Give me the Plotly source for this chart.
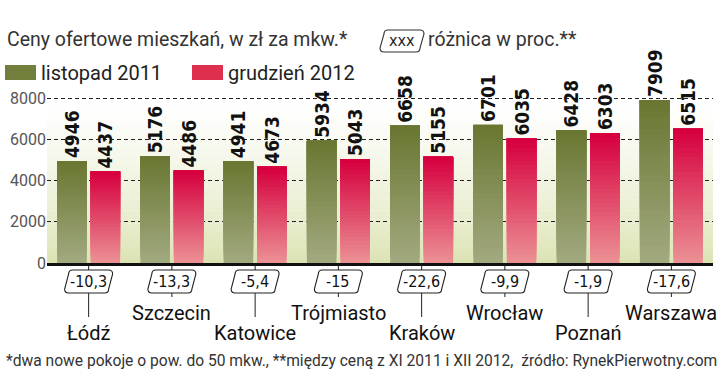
import plotly.graph_objects as go

# ---- data ----
cities = ["Łódź", "Szczecin", "Katowice", "Trójmiasto", "Kraków", "Wrocław", "Poznań", "Warszawa"]
nov2011 = [4946, 5176, 4941, 5934, 6658, 6701, 6428, 7909]
dec2012 = [4437, 4486, 4673, 5043, 5155, 6035, 6303, 6515]
diff_pct = ["-10,3", "-13,3", "-5,4", "-15", "-22,6", "-9,9", "-1,9", "-17,6"]
series_names = ["listopad 2011", "grudzień 2012"]
y_ticks = [0, 2000, 4000, 6000, 8000]

NARROW = "DejaVu Sans Condensed, Liberation Sans Narrow, DejaVu Sans"

# ---- layout geometry (pixels) ----
W, H = 720, 389
ML, MR, MT, MB = 47, 7, 94, 126
PW, PH = W - ML - MR, H - MT - MB
Y0PX = H - MB


def px(x):
    return (x - ML) / PW


def py(y):
    return (Y0PX - y) / PH


def cat_paper(i):
    # category index -> paper x (axis range is [-0.5, n-0.5])
    return (i + 0.5) / len(cities)


def hex2rgb(h):
    h = h.lstrip("#")
    return [int(h[i:i + 2], 16) for i in (0, 2, 4)]


def lerp(c1, c2, t):
    a, b = hex2rgb(c1), hex2rgb(c2)
    return "rgb(%d,%d,%d)" % tuple(round(a[i] + (b[i] - a[i]) * t) for i in range(3))


fig = go.Figure()
x = list(range(len(cities)))

N = 28
specs = [
    (nov2011, "#a1a97f", "#6a7732", -0.378),
    (dec2012, "#eb8f93", "#d6003f", 0.024),
]
BW = 0.354
for vals, cbot, ctop, off in specs:
    for k in range(N):
        f = k / N
        base = [v * f for v in vals]
        hts = [v - b for v, b in zip(vals, base)]
        last = k == N - 1
        fig.add_trace(go.Bar(
            x=x, y=hts, base=base,
            offset=off, width=BW,
            marker=dict(color=lerp(cbot, ctop, k / (N - 1)), line=dict(width=0)),
            text=[str(v) for v in vals] if last else None,
            textposition="outside" if last else "none",
            textangle=-90,
            constraintext="none",
            cliponaxis=False,
            textfont=dict(family=NARROW, size=19, color="#111", weight="bold"),
            hoverinfo="skip",
            showlegend=False,
        ))

shapes = []
# background gradient of plot area
NS = 40
top_px, bot_px = 105, Y0PX
for i in range(NS):
    y_a = bot_px - (bot_px - top_px) * i / NS
    y_b = bot_px - (bot_px - top_px) * (i + 1) / NS
    t = i / (NS - 1)
    shapes.append(dict(type="rect", xref="paper", yref="paper",
                       x0=0, x1=1, y0=py(y_a), y1=py(y_b) + 0.002,
                       fillcolor=lerp("#dce3b3", "#ffffff", t ** 0.8),
                       line=dict(width=0), layer="below"))


def box_path(w, yt, yb, slant=2.0, r=4):
    # slanted rounded box, pixel coordinates (y up positive)
    xl_t, xr_t = -w / 2 + slant, w / 2 + slant
    xl_b, xr_b = -w / 2 - slant, w / 2 - slant
    return (f"M {xl_t + r},{yt} L {xr_t - r},{yt} Q {xr_t},{yt} {xr_t},{yt - r} "
            f"L {xr_b},{yb + r} Q {xr_b},{yb} {xr_b - r},{yb} "
            f"L {xl_b + r},{yb} Q {xl_b},{yb} {xl_b},{yb + r} "
            f"L {xl_t},{yt - r} Q {xl_t},{yt} {xl_t + r},{yt} Z")


annotations = []
for i, (c, d) in enumerate(zip(cities, diff_pct)):
    lower = i % 2 == 0
    cx = cat_paper(i)
    shapes.append(dict(type="line", xref="paper", yref="paper", x0=cx, x1=cx,
                       y0=py(Y0PX + 2), y1=py(Y0PX + (54 if lower else 34)),
                       line=dict(color="#222", width=1), layer="above"))
    shapes.append(dict(type="path", xref="paper", yref="paper", xsizemode="pixel", xanchor=cx,
                       ysizemode="pixel", yanchor=0, path=box_path(44, -7, -30),
                       fillcolor="white", line=dict(color="#222", width=1.1), layer="above"))
    annotations.append(dict(x=i, y=0, xref="x", yref="y", yshift=-18.5, text=d,
                            showarrow=False, font=dict(family=NARROW, size=16, color="#111")))
    annotations.append(dict(x=i, y=0, xref="x", yref="y", yshift=-70 if lower else -50, text=c,
                            showarrow=False, font=dict(family="Roboto", size=20, color="#111")))

# title / header
annotations.append(dict(x=px(5), y=py(40), xref="paper", yref="paper", xanchor="left", yanchor="middle",
                        text="Ceny ofertowe mieszkań, w zł za mkw.*", showarrow=False,
                        font=dict(family="Roboto", size=19.5, color="#333")))
shapes.append(dict(type="path", xref="paper", yref="paper", xsizemode="pixel", xanchor=px(402),
                   ysizemode="pixel", yanchor=py(41), path=box_path(40, 11, -11, slant=2),
                   fillcolor="white", line=dict(color="#333", width=1.1)))
annotations.append(dict(x=px(402), y=py(41), xref="paper", yref="paper", xanchor="center", yanchor="middle",
                        text="xxx", showarrow=False,
                        font=dict(family=NARROW, size=16, color="#222")))
annotations.append(dict(x=px(426), y=py(40), xref="paper", yref="paper", xanchor="left", yanchor="middle",
                        text="różnica w proc.**", showarrow=False,
                        font=dict(family="Roboto", size=19.5, color="#333")))

# legend
for (sx, col, name, tx) in [(5, "#717e3c", series_names[0], 39), (192, "#de2f4e", series_names[1], 226)]:
    shapes.append(dict(type="rect", xref="paper", yref="paper",
                       x0=px(sx), x1=px(sx + 31), y0=py(65), y1=py(80),
                       fillcolor=col, line=dict(width=0)))
    annotations.append(dict(x=px(tx), y=py(73), xref="paper", yref="paper", xanchor="left", yanchor="middle",
                            text=name, showarrow=False,
                            font=dict(family="Roboto", size=20, color="#222")))

# footnote
annotations.append(dict(x=px(4), y=py(361), xref="paper", yref="paper", xanchor="left", yanchor="middle",
                        text="*dwa nowe pokoje o pow. do 50 mkw., **między ceną z XI 2011 i XII 2012,  źródło: RynekPierwotny.com",
                        showarrow=False, font=dict(family="Roboto", size=15.6, color="#333")))

fig.update_layout(
    template="none",
    width=W, height=H,
    margin=dict(l=ML, r=MR, t=MT, b=MB, pad=0, autoexpand=False),
    paper_bgcolor="white", plot_bgcolor="rgba(0,0,0,0)",
    barmode="overlay",
    showlegend=False,
    shapes=shapes,
    annotations=annotations,
    xaxis=dict(range=[-0.5, len(cities) - 0.5], showgrid=False, zeroline=False,
               showticklabels=False, ticks="", showline=True, linecolor="#111", linewidth=3,
               automargin=False, fixedrange=True),
    yaxis=dict(range=[0, 8200], tickvals=y_ticks, showgrid=True, gridcolor="#222", gridwidth=1,
               griddash="4px,3px", zeroline=False, showline=False, ticks="",
               tickfont=dict(family="Roboto", size=16, color="#555"),
               automargin=False, fixedrange=True),
)

fig.write_html("out.html", config=dict(displayModeBar=False),
               post_script="document.body.style.margin='0';document.body.style.overflow='hidden';")
